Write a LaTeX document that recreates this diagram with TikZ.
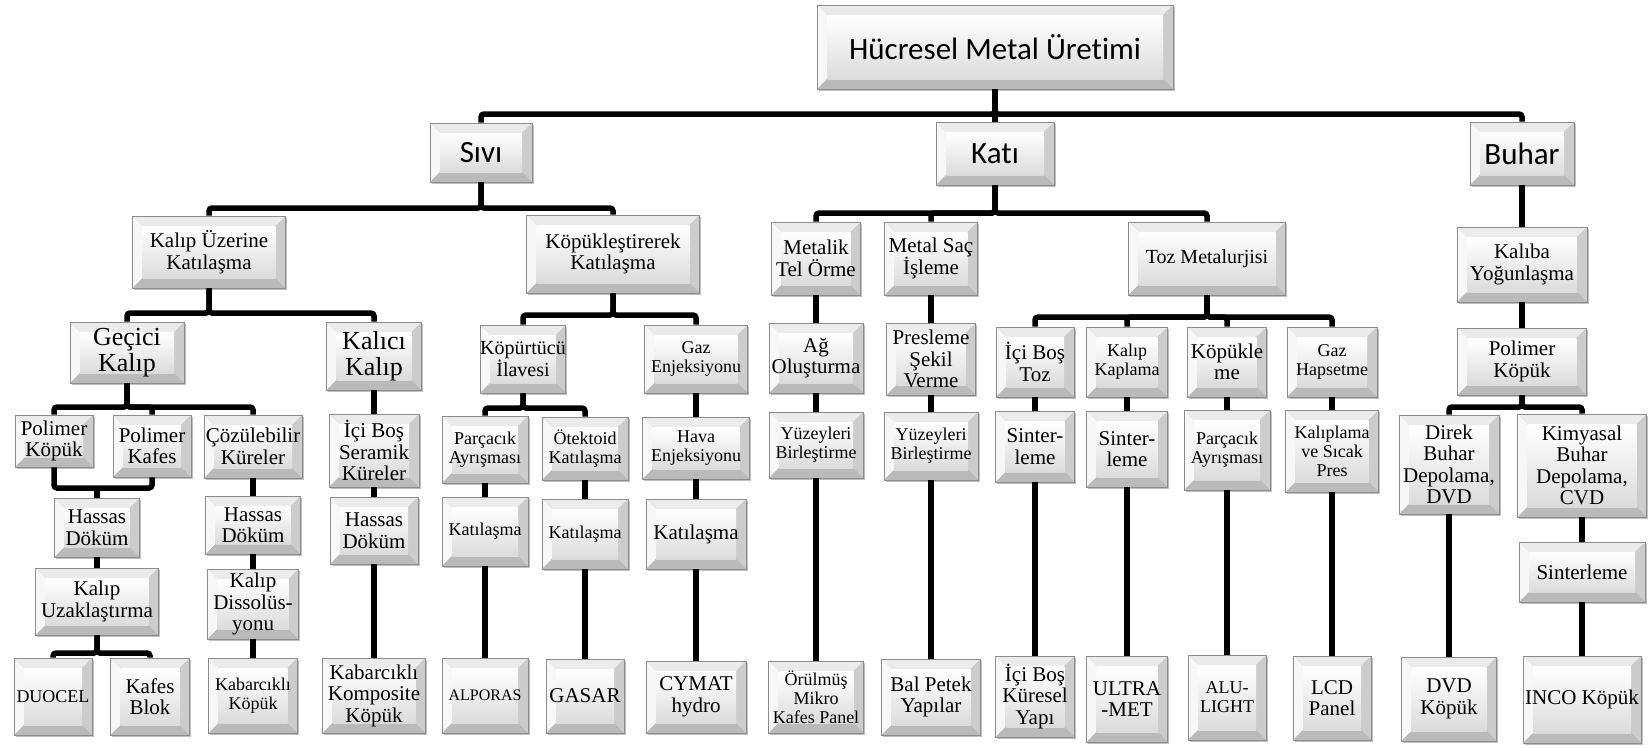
\documentclass[tikz,border=0pt]{standalone}
\usepackage{fontspec}
\setmainfont{Liberation Serif}
\newfontfamily\calibri[Ligatures=NoCommon]{Carlito}
\usepackage{tikz}
\usetikzlibrary{shadows}

\begin{document}
\begin{tikzpicture}[x=1pt,y=-1pt]
\tikzstyle{kutu}=[draw=black!45,line width=0.6pt,inner sep=0pt,align=center,
  font=\fontsize{21}{21.5}\selectfont,
  drop shadow={shadow xshift=1.5pt,shadow yshift=-2pt,fill=black,opacity=0.25},
  path picture={
    \coordinate (bvsw) at (path picture bounding box.south west);
    \coordinate (bvse) at (path picture bounding box.south east);
    \coordinate (bvne) at (path picture bounding box.north east);
    \coordinate (bvnw) at (path picture bounding box.north west);
    \fill[black!8] (bvnw) -- (bvne) -- ([shift={(-10pt,-10pt)}]bvne) -- ([shift={(10pt,-10pt)}]bvnw) -- cycle;
    \fill[black!3] (bvnw) -- (bvsw) -- ([shift={(10pt,10pt)}]bvsw) -- ([shift={(10pt,-10pt)}]bvnw) -- cycle;
    \fill[black!20] (bvne) -- (bvse) -- ([shift={(-10pt,10pt)}]bvse) -- ([shift={(-10pt,-10pt)}]bvne) -- cycle;
    \fill[black!27] (bvsw) -- (bvse) -- ([shift={(-10pt,10pt)}]bvse) -- ([shift={(10pt,10pt)}]bvsw) -- cycle;
    \shade[top color=white,bottom color=black!14] ([shift={(10pt,10pt)}]bvsw) rectangle ([shift={(-10pt,-10pt)}]bvne);
  }];
\tikzstyle{ana}=[kutu,font=\calibri\fontsize{31}{31}\selectfont];
\tikzstyle{kucuk}=[font=\fontsize{18}{19}\selectfont];
\tikzstyle{buyuk}=[font=\fontsize{26}{26}\selectfont];
\tikzstyle{bag}=[line width=5.5pt,rounded corners=3pt];

\useasboundingbox (0,0) rectangle (1648,747);

% ust seviye
\node [ana,minimum width=356pt,minimum height=84pt] (hme) at (995,47) {Hücresel Metal Üretimi};
\node [ana,minimum width=102pt,minimum height=59pt] (sivi) at (481,152.5) {Sıvı};
\node [ana,minimum width=118pt,minimum height=63pt] (kati) at (995,153.5) {Katı};
\node [ana,minimum width=104pt,minimum height=63pt] (buhar) at (1522,153.5) {Buhar};

\node [kutu,minimum width=153pt,minimum height=72pt] (kuz) at (209,252) {Kalıp Üzerine\\Katılaşma};
\node [kutu,minimum width=173pt,minimum height=78pt] (kok) at (613,254) {Köpükleştirerek\\Katılaşma};
\node [kutu,minimum width=89pt,minimum height=73pt] (metalik) at (816,258.5) {Metalik\\Tel Örme};
\node [kutu,minimum width=93pt,minimum height=73pt] (msac) at (931,258.5) {Metal Saç\\İşleme};
\node [kutu,font=\fontsize{20}{21}\selectfont,minimum width=157pt,minimum height=73pt] (toz) at (1207,258.5) {Toz Metalurjisi};
\node [kutu,minimum width=130pt,minimum height=75pt] (kyog) at (1522,264.5) {Kalıba\\Yoğunlaşma};

\node [kutu,buyuk,minimum width=114pt,minimum height=61pt] (gecici) at (127,352.5) {Geçici\\Kalıp};
\node [kutu,buyuk,minimum width=95pt,minimum height=68pt] (kalici) at (374,356) {Kalıcı\\Kalıp};
\node [kutu,font=\fontsize{20}{20}\selectfont,minimum width=83pt,minimum height=68pt] (kopurt) at (523,359) {Köpürtücü\\İlavesi};
\node [kutu,kucuk,minimum width=103pt,minimum height=68pt] (gazenj) at (696,359) {Gaz\\Enjeksiyonu};
\node [kutu,minimum width=94pt,minimum height=70pt] (ag) at (816,358) {Ağ\\Oluşturma};
\node [kutu,minimum width=89pt,minimum height=72pt] (presl) at (931,359) {Presleme\\Şekil\\Verme};
\node [kutu,minimum width=78pt,minimum height=70pt] (icitoz) at (1035,362) {İçi Boş\\Toz};
\node [kutu,kucuk,minimum width=81pt,minimum height=70pt] (kkap) at (1127,362) {Kalıp\\Kaplama};
\node [kutu,minimum width=79pt,minimum height=70pt] (kopme) at (1227,362) {Köpükle\\me};
\node [kutu,kucuk,minimum width=90pt,minimum height=70pt] (gazhap) at (1332,362) {Gaz\\Hapsetme};
\node [kutu,minimum width=129pt,minimum height=67pt] (polb) at (1522,361.5) {Polimer\\Köpük};

\node [kutu,minimum width=78pt,minimum height=52pt] (pk1) at (54,441) {Polimer\\Köpük};
\node [kutu,minimum width=78pt,minimum height=62pt] (pkf) at (152,446) {Polimer\\Kafes};
\node [kutu,minimum width=98pt,minimum height=63pt] (coz) at (253,446.5) {Çözülebilir\\Küreler};
\node [kutu,minimum width=90pt,minimum height=73pt] (iseram) at (374,450.5) {İçi Boş\\Seramik\\Küreler};
\node [kutu,kucuk,minimum width=86pt,minimum height=67pt] (pay1) at (485,449.5) {Parçacık\\Ayrışması};
\node [kutu,kucuk,minimum width=86pt,minimum height=63pt] (otek) at (585,448.5) {Ötektoid\\Katılaşma};
\node [kutu,kucuk,minimum width=107pt,minimum height=62pt] (hava) at (696,448) {Hava\\Enjeksiyonu};
\node [kutu,kucuk,minimum width=94pt,minimum height=66pt] (yb1) at (816,445) {Yüzeyleri\\Birleştirme};
\node [kutu,kucuk,minimum width=94pt,minimum height=68pt] (yb2) at (931,446) {Yüzeyleri\\Birleştirme};
\node [kutu,minimum width=79pt,minimum height=71pt] (sint1) at (1035,446.5) {Sinter-\\leme};
\node [kutu,minimum width=81pt,minimum height=76pt] (sint2) at (1127,449) {Sinter-\\leme};
\node [kutu,kucuk,minimum width=86pt,minimum height=80pt] (pay2) at (1227,450) {Parçacık\\Ayrışması};
\node [kutu,kucuk,minimum width=93pt,minimum height=82pt] (kalip) at (1332,451) {Kalıplama\\ve Sıcak\\Pres};
\node [kutu,minimum width=100pt,minimum height=99pt] (direk) at (1449,464.5) {Direk\\Buhar\\Depolama,\\DVD};
\node [kutu,minimum width=129pt,minimum height=103pt] (kimy) at (1582,465.5) {Kimyasal\\Buhar\\Depolama,\\CVD};

\node [kutu,minimum width=85pt,minimum height=59pt] (hd1) at (97,527.5) {Hassas\\Döküm};
\node [kutu,minimum width=95pt,minimum height=58pt] (hd2) at (253,525) {Hassas\\Döküm};
\node [kutu,minimum width=88pt,minimum height=67pt] (hd3) at (374,530.5) {Hassas\\Döküm};
\node [kutu,kucuk,minimum width=86pt,minimum height=69pt] (kat1) at (485,531.5) {Katılaşma};
\node [kutu,kucuk,minimum width=86pt,minimum height=70pt] (kat2) at (585,534) {Katılaşma};
\node [kutu,minimum width=100pt,minimum height=70pt] (kat3) at (696,534) {Katılaşma};
\node [kutu,minimum width=126pt,minimum height=60pt] (sint3) at (1582,572) {Sinterleme};
\node [kutu,minimum width=123pt,minimum height=67pt] (kuzak) at (97,601.5) {Kalıp\\Uzaklaştırma};
\node [kutu,minimum width=91pt,minimum height=70pt] (kdis) at (253,604) {Kalıp\\Dissolüs-\\yonu};

% alt seviye
\node [kutu,kucuk,minimum width=78pt,minimum height=77pt] (duocel) at (53,696.5) {DUOCEL};
\node [kutu,minimum width=79pt,minimum height=77pt] (kblok) at (150,696.5) {Kafes\\Blok};
\node [kutu,kucuk,minimum width=89pt,minimum height=75pt] (kkop) at (253,695.5) {Kabarcıklı\\Köpük};
\node [kutu,minimum width=103pt,minimum height=75pt] (kkomp) at (374,695.5) {Kabarcıklı\\Komposite\\Köpük};
\node [kutu,font=\fontsize{16}{17}\selectfont,minimum width=86pt,minimum height=75pt] (alporas) at (485,695.5) {ALPORAS};
\node [kutu,minimum width=78pt,minimum height=74pt] (gasar) at (585,696) {GASAR};
\node [kutu,minimum width=100pt,minimum height=72pt] (cymat) at (696,697) {CYMAT\\hydro};
\node [kutu,kucuk,minimum width=95pt,minimum height=72pt] (orul) at (816,697) {Örülmüş\\Mikro\\Kafes Panel};
\node [kutu,minimum width=99pt,minimum height=76pt] (balp) at (931,697) {Bal Petek\\Yapılar};
\node [kutu,minimum width=79pt,minimum height=81pt] (icik) at (1035,696.5) {İçi Boş\\Küresel\\Yapı};
\node [kutu,minimum width=81pt,minimum height=86pt] (ultra) at (1127,699) {ULTRA\\-MET};
\node [kutu,kucuk,minimum width=78pt,minimum height=85pt] (alu) at (1227,697.5) {ALU-\\LIGHT};
\node [kutu,minimum width=78pt,minimum height=84pt] (lcd) at (1332,698) {LCD\\Panel};
\node [kutu,minimum width=95pt,minimum height=84pt] (dvd) at (1449,699) {DVD\\Köpük};
\node [kutu,minimum width=118pt,minimum height=87pt] (inco) at (1582,699.5) {INCO Köpük};

% baglanti seviyeleri
\coordinate (b0) at (0,114);
\coordinate (b1) at (0,208);
\coordinate (b2) at (0,213);
\coordinate (b3) at (0,313);
\coordinate (b4) at (0,315);
\coordinate (b5) at (0,317);
\coordinate (b6) at (0,407);
\coordinate (b7) at (0,408);
\coordinate (b8) at (0,488);
\coordinate (b9) at (0,653);

\draw[bag] (hme.south) |- (sivi.north |- b0) -- (sivi.north);
\draw[bag] (hme.south) -- (kati.north);
\draw[bag] (hme.south) |- (buhar.north |- b0) -- (buhar.north);

\draw[bag] (sivi.south) |- (kuz.north |- b1) -- (kuz.north);
\draw[bag] (sivi.south) |- (kok.north |- b1) -- (kok.north);
\draw[bag] (kati.south) |- (metalik.north |- b2) -- (metalik.north);
\draw[bag] (kati.south) |- (msac.north |- b2) -- (msac.north);
\draw[bag] (kati.south) |- (toz.north |- b2) -- (toz.north);
\draw[bag] (buhar.south) -- (kyog.north);

\draw[bag] (kuz.south) |- (gecici.north |- b3) -- (gecici.north);
\draw[bag] (kuz.south) |- (kalici.north |- b3) -- (kalici.north);
\draw[bag] (kok.south) |- (kopurt.north |- b4) -- (kopurt.north);
\draw[bag] (kok.south) |- (gazenj.north |- b4) -- (gazenj.north);
\draw[bag] (metalik.south) -- (ag.north);
\draw[bag] (msac.south) -- (presl.north);
\draw[bag] (toz.south) |- (icitoz.north |- b5) -- (icitoz.north);
\draw[bag] (toz.south) |- (kkap.north |- b5) -- (kkap.north);
\draw[bag] (toz.south) |- (kopme.north |- b5) -- (kopme.north);
\draw[bag] (toz.south) |- (gazhap.north |- b5) -- (gazhap.north);
\draw[bag] (kyog.south) -- (polb.north);

\draw[bag] (gecici.south) |- (pk1.north |- b6) -- (pk1.north);
\draw[bag] (gecici.south) |- (pkf.north |- b6) -- (pkf.north);
\draw[bag] (gecici.south) |- (coz.north |- b6) -- (coz.north);
\draw[bag] (kalici.south) -- (iseram.north);
\draw[bag] (kopurt.south) |- (pay1.north |- b7) -- (pay1.north);
\draw[bag] (kopurt.south) |- (otek.north |- b7) -- (otek.north);
\draw[bag] (gazenj.south) -- (hava.north);
\draw[bag] (ag.south) -- (yb1.north);
\draw[bag] (presl.south) -- (yb2.north);
\draw[bag] (icitoz.south) -- (sint1.north);
\draw[bag] (kkap.south) -- (sint2.north);
\draw[bag] (kopme.south) -- (pay2.north);
\draw[bag] (gazhap.south) -- (kalip.north);
\draw[bag] (polb.south) |- (direk.north |- b6) -- (direk.north);
\draw[bag] (polb.south) |- (kimy.north |- b6) -- (kimy.north);

\draw[bag] (pk1.south) |- (pkf.south |- b8) -- (pkf.south);
\draw[bag] (hd1.north) -- (hd1.north |- b8);
\draw[bag] (hd1.south) -- (kuzak.north);
\draw[bag] (kuzak.south) |- (duocel.north |- b9) -- (duocel.north);
\draw[bag] (kuzak.south) |- (kblok.north |- b9) -- (kblok.north);
\draw[bag] (coz.south) -- (hd2.north);
\draw[bag] (hd2.south) -- (kdis.north);
\draw[bag] (kdis.south) -- (kkop.north);
\draw[bag] (iseram.south) -- (hd3.north);
\draw[bag] (hd3.south) -- (kkomp.north);
\draw[bag] (pay1.south) -- (kat1.north);
\draw[bag] (kat1.south) -- (alporas.north);
\draw[bag] (otek.south) -- (kat2.north);
\draw[bag] (kat2.south) -- (gasar.north);
\draw[bag] (hava.south) -- (kat3.north);
\draw[bag] (kat3.south) -- (cymat.north);
\draw[bag] (yb1.south) -- (orul.north);
\draw[bag] (yb2.south) -- (balp.north);
\draw[bag] (sint1.south) -- (icik.north);
\draw[bag] (sint2.south) -- (ultra.north);
\draw[bag] (pay2.south) -- (alu.north);
\draw[bag] (kalip.south) -- (lcd.north);
\draw[bag] (direk.south) -- (dvd.north);
\draw[bag] (kimy.south) -- (sint3.north);
\draw[bag] (sint3.south) -- (inco.north);
\end{tikzpicture}
\end{document}
